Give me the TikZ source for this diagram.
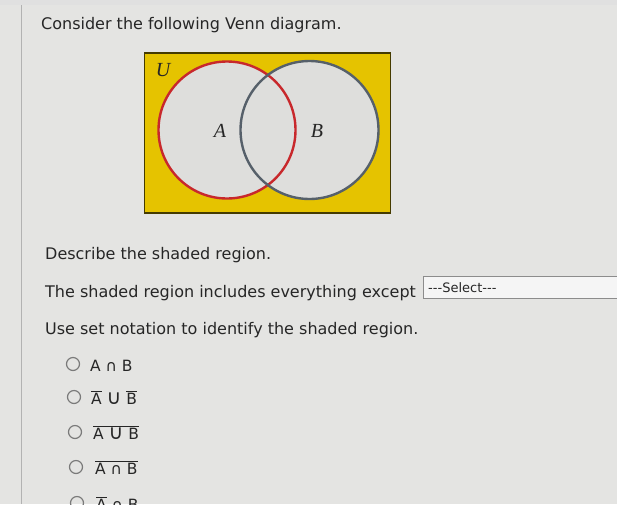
\documentclass[tikz,border=0pt]{standalone}
\usepackage{graphicx}
\usepackage{fontspec}
\setmainfont{DejaVu Sans}
\newfontfamily\vennfont{Liberation Serif}
\newcommand{\bigcupsym}{\scalebox{1.3}{∪}}
\definecolor{bgc}{HTML}{E4E4E2}
\definecolor{txt}{HTML}{262626}
\definecolor{venny}{HTML}{E5C300}
\definecolor{vennin}{HTML}{DEDEDC}
\definecolor{reda}{HTML}{C8282C}
\definecolor{grayb}{HTML}{56606A}
\definecolor{radio}{HTML}{7A7A7A}
\begin{document}
\begin{tikzpicture}[x=1pt,y=-1pt,
  txtnode/.style={anchor=base west,inner sep=0pt,text=txt,font=\fontsize{16}{18}\selectfont},
  optnode/.style={anchor=base west,inner sep=0pt,text=txt,font=\fontsize{15.5}{17}\selectfont},
  radiobtn/.style={circle,draw=radio,line width=1.2pt,minimum size=13pt,inner sep=0pt},
  setlabel/.style={inner sep=0pt,text=txt,font=\fontsize{20}{22}\vennfont\itshape}]
\useasboundingbox (0,0) rectangle (617,504);
\clip (0,0) rectangle (617,504);
\fill[bgc] (0,0) rectangle (617,504);
\fill[black!12] (0,0) rectangle (617,5);
\draw[black!30,line width=0.8pt] (21,5) -- (21,504);
% title
\node[txtnode] (title) at (41,29) {Consider the following Venn diagram.};
% Venn diagram
\node[draw=black!70!venny,line width=1.4pt,fill=venny,minimum width=246pt,minimum height=160pt,inner sep=0pt] (U) at (267.5,133) {};
\node[circle,fill=vennin,minimum size=137pt,inner sep=0pt] (cA) at (227,130) {};
\node[circle,fill=vennin,minimum size=138pt,inner sep=0pt] (cB) at (309.5,130) {};
\node[circle,draw=reda,line width=2.4pt,minimum size=137pt,inner sep=0pt] (oA) at (227,130) {};
\node[circle,draw=grayb,line width=2.4pt,minimum size=138pt,inner sep=0pt] (oB) at (309.5,130) {};
\node[setlabel] (lU) at (163,70) {U};
\node[setlabel] (lA) at (220,131) {A};
\node[setlabel] (lB) at (317,131) {B};
% description
\node[txtnode] (desc) at (45,259) {Describe the shaded region.};
\node[txtnode] (incl) at (45,297) {The shaded region includes everything except};
\node[draw=black!45,line width=0.9pt,fill=black!4,minimum width=200pt,minimum height=22pt,inner sep=0pt,anchor=north west] (sel) at (423,276) {};
\node[anchor=base west,inner sep=0pt,text=txt,font=\fontsize{13}{14}\selectfont] (seltxt) at (428,292) {-{}-{}-Select-{}-{}-};
\node[txtnode] (use) at (45,334) {Use set notation to identify the shaded region.};
% options
\node[radiobtn] (r1) at (73,364) {};
\node[optnode] (o1) at (90,371) {A ∩ B};
\node[radiobtn] (r2) at (74,397) {};
\node[optnode] (o2) at (91,404) {$\overline{\hbox{A}}$ \bigcupsym\ $\overline{\hbox{B}}$};
\node[radiobtn] (r3) at (75,432) {};
\node[optnode] (o3) at (93,439) {$\overline{\hbox{A \bigcupsym\ B}}$};
\node[radiobtn] (r4) at (76,467) {};
\node[optnode] (o4) at (95,474) {$\overline{\hbox{A ∩ B}}$};
\node[radiobtn] (r5) at (77,503) {};
\node[optnode] (o5) at (96,510) {$\overline{\hbox{A}}$ ∩ B};
\end{tikzpicture}
\end{document}
